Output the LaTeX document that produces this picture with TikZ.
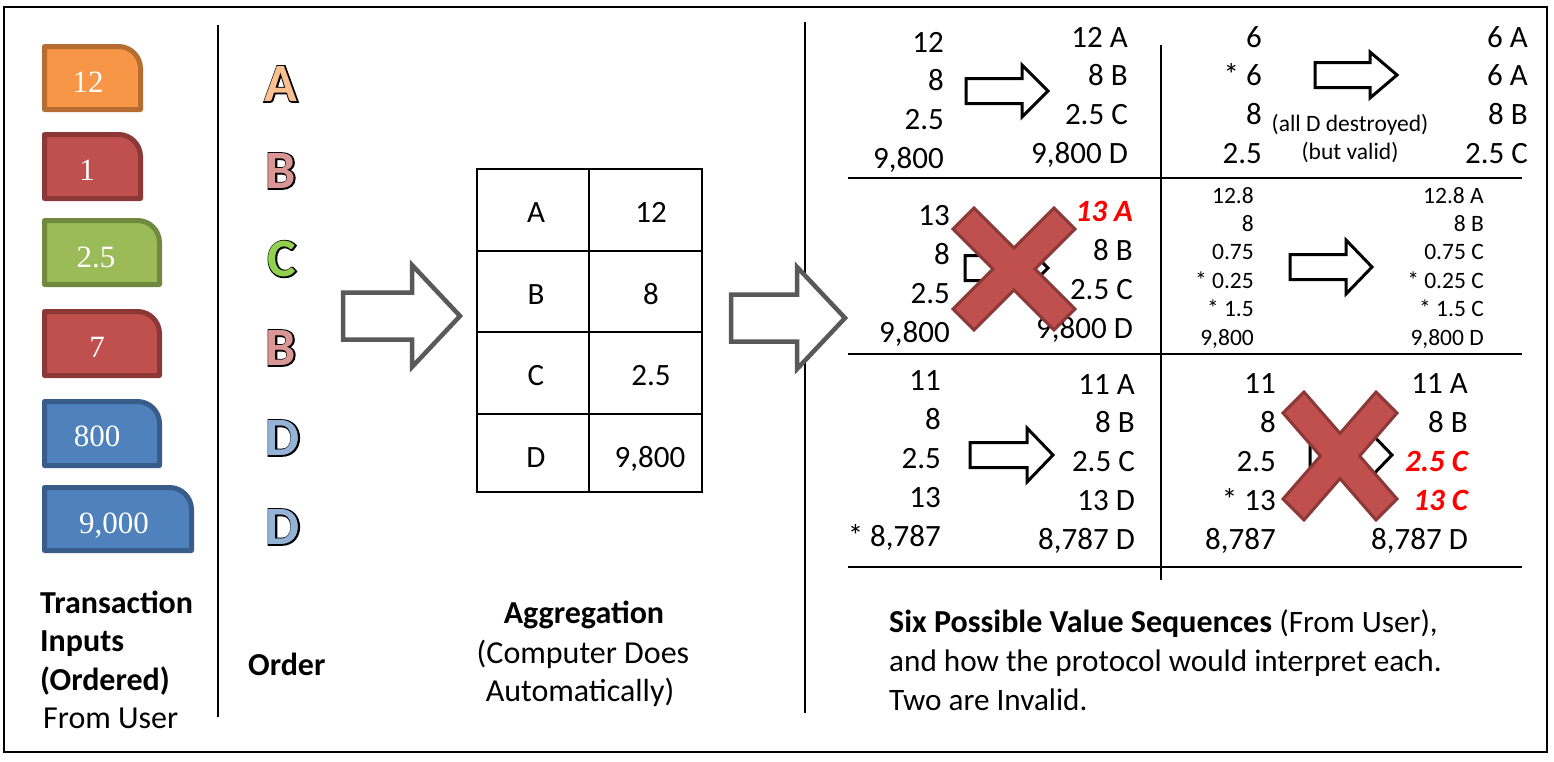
\documentclass[tikz,border=0pt]{standalone}
\usepackage{fontspec}
\setmainfont{Carlito}
\newfontfamily\boxfont{Liberation Serif}
\definecolor{orF}{HTML}{F79646}\definecolor{orB}{HTML}{B66D31}
\definecolor{rdF}{HTML}{C0504D}\definecolor{rdB}{HTML}{8C3836}
\definecolor{grF}{HTML}{9BBB59}\definecolor{grB}{HTML}{71893F}
\definecolor{blF}{HTML}{4F81BD}\definecolor{blB}{HTML}{385D8A}
\definecolor{lA}{HTML}{FAC090}\definecolor{lB}{HTML}{DA9694}
\definecolor{lC}{HTML}{92D050}\definecolor{lD}{HTML}{95B3D7}
\definecolor{arrgray}{HTML}{595959}
\definecolor{xfill}{HTML}{C0504D}\definecolor{xdraw}{HTML}{8C3836}
\definecolor{alarm}{HTML}{FF0000}
% outlined letter: black stroked copy underneath, coloured fill on top
\newcommand\olet[2]{\makebox[0pt][l]{\special{pdf:literal direct 1 Tr 2.6 w}#2\special{pdf:literal direct 0 Tr}}\textcolor{#1}{#2}}
% tab box: x1 y1 x2 y2 fill draw
\newcommand\tabbox[6]{%
  \draw[line width=5pt, fill=#5, draw=#6, line join=round]
    (#1+2.5,#4-2.5) -- (#1+2.5,#2+2.5) -- (#3-24.5,#2+2.5)
    .. controls (#3-12.4,#2+2.5) and (#3-2.5,#2+12.4) .. (#3-2.5,#2+24.5)
    -- (#3-2.5,#4-2.5) -- cycle;}
% block arrow: style xl xb xt ym shafthalf headhalf
\newcommand\blockarrow[7]{%
  \draw[#1] (#2,#5-#6) -- (#3,#5-#6) -- (#3,#5-#7) -- (#4,#5) -- (#3,#5+#7)
    -- (#3,#5+#6) -- (#2,#5+#6) -- cycle;}
\begin{document}
\begin{tikzpicture}[x=1pt,y=-1pt,
  numR/.style={font=\fontsize{31}{37}\selectfont, anchor=base east, inner sep=0pt},
  numS/.style={font=\fontsize{23.5}{28}\selectfont, anchor=base east, inner sep=0pt},
  note/.style={font=\fontsize{23.5}{28}\selectfont, anchor=base, inner sep=0pt},
  lbl/.style={font=\fontsize{32}{38}\selectfont, inner sep=0pt},
  captext/.style={font=\fontsize{31.2}{38}\selectfont, inner sep=0pt},
  lblB/.style={font=\bfseries\fontsize{32}{38}\selectfont, inner sep=0pt},
  boxnum/.style={font=\boxfont\fontsize{31}{37}\selectfont, text=white, anchor=base, inner sep=0pt},
  letter/.style={font=\bfseries\fontsize{54}{60}\selectfont, inner sep=0pt},
  cell/.style={font=\fontsize{31}{37}\selectfont, anchor=base, inner sep=0pt},
  bigarrow/.style={draw=arrgray, line width=4.5pt, fill=white, line join=miter, miter limit=10},
  smallarrow/.style={draw=black, line width=3pt, fill=white, line join=miter, miter limit=10},
  cross/.style={fill=xfill, draw=xdraw, line width=3pt, line join=miter},
  rule/.style={line width=1.3pt},
  tabline/.style={line width=1.2pt},
  tabthick/.style={line width=2.2pt},
  wrong/.style={text=alarm, font=\bfseries\itshape\fontsize{31}{37}\selectfont}
]
\useasboundingbox (0,0) rectangle (1554,761);
\fill[white] (0,0) rectangle (1554,761);
\draw[line width=2.5pt] (4,7) rectangle (1547,752);

% dividers
\draw[rule] (218,25) -- (218,717);
\draw[rule] (805,22) -- (805,713);

% input boxes
\tabbox{42}{44}{143}{112}{orF}{orB}
\tabbox{42}{132}{143}{201}{rdF}{rdB}
\tabbox{42}{218}{162}{287}{grF}{grB}
\tabbox{42}{309}{162}{378}{rdF}{rdB}
\tabbox{42}{399}{162}{468}{blF}{blB}
\tabbox{42}{485}{194}{553}{blF}{blB}
\node[boxnum] (in1) at (88,92) {12};
\node[boxnum] (in2) at (87,180) {1};
\node[boxnum] (in3) at (96,267) {2.5};
\node[boxnum] (in4) at (97,357) {7};
\node[boxnum] (in5) at (97,446) {800};
\node[boxnum] (in6) at (114,533) {9,000};

% order letters
\node[letter] (oA) at (281,84) {\olet{lA}{A}};
\node[letter] (oB1) at (281,171) {\olet{lB}{B}};
\node[letter] (oC) at (282,259) {\olet{lC}{C}};
\node[letter] (oB2) at (281,348) {\olet{lB}{B}};
\node[letter] (oD1) at (283,438) {\olet{lD}{D}};
\node[letter] (oD2) at (283,527) {\olet{lD}{D}};

% left labels
\node[lblB, anchor=base west] (t1) at (40,613) {Transaction};
\node[lblB, anchor=base west] (t2) at (40,651) {Inputs};
\node[lblB, anchor=base west] (t3) at (40,690) {(Ordered)};
\node[lbl, anchor=base west] (t4) at (43,728) {From User};
\node[lblB, anchor=base west] (ord) at (248,675) {Order};

% big arrows
\blockarrow{bigarrow}{343}{412}{460}{316}{23.5}{51}
\blockarrow{bigarrow}{731}{797}{845}{318}{23.5}{51}

% aggregation table
\draw[tabline] (477,169) rectangle (702,492);
\draw[tabline] (589,169) -- (589,492);
\draw[tabthick] (477,251) -- (702,251);
\draw[tabline] (477,332) -- (702,332);
\draw[tabthick] (477,414) -- (702,414);
\node[cell] (ka) at (536,222) {A};
\node[cell] (va) at (651,222) {12};
\node[cell] (kb) at (536,304) {B};
\node[cell] (vb) at (651,304) {8};
\node[cell] (kc) at (536,385) {C};
\node[cell] (vc) at (651,385) {2.5};
\node[cell] (kd) at (536,467) {D};
\node[cell] (vd) at (650,467) {9,800};
\node[lblB, anchor=base] (ag1) at (584,623) {Aggregation};
\node[lbl, anchor=base] (ag2) at (583,663) {(Computer Does};
\node[lbl, anchor=base] (ag3) at (580,701) {Automatically)};

% right grid
\draw[rule] (848,178) -- (1522,178);
\draw[rule] (848,354) -- (1522,354);
\draw[rule] (848,567) -- (1522,567);
\draw[rule] (1161,45) -- (1161,580);

% top-left cell
\foreach \t [count=\i] in {12,8,2.5,{9,800}}
  \node[numR] (tlL\i) at (944,{52+38.7*(\i-1)}) {\t};
\foreach \t [count=\i] in {12 A,8 B,2.5 C,{9,800 D}}
  \node[numR] (tlR\i) at (1128,{47+38.7*(\i-1)}) {\t};
\blockarrow{smallarrow}{966}{1022}{1048}{91}{12.5}{26}

% top-right cell
\foreach \t [count=\i] in {6,* 6,8,2.5}
  \node[numR] (trL\i) at (1262,{47+38.7*(\i-1)}) {\t};
\foreach \t [count=\i] in {6 A,6 A,8 B,2.5 C}
  \node[numR] (trR\i) at (1528,{47+38.7*(\i-1)}) {\t};
\blockarrow{smallarrow}{1315}{1370}{1397}{75}{12.5}{23}
\node[note] (n1) at (1350,131) {(all D destroyed)};
\node[note] (n2) at (1350,159) {(but valid)};

% middle-left cell
\foreach \t [count=\i] in {13,8,2.5,{9,800}}
  \node[numR] (mlL\i) at (950,{225+39*(\i-1)}) {\t};
\node[numR, wrong] (mlR1) at (1133,221) {13 A};
\foreach \t [count=\i from 2] in {8 B,2.5 C,{9,800 D}}
  \node[numR] (mlR\i) at (1133,{221+39*(\i-1)}) {\t};
\blockarrow{smallarrow}{965}{1022}{1048}{268}{12.5}{26}

% middle-right cell
\foreach \t [count=\i] in {12.8,8,0.75,* 0.25,* 1.5,{9,800}}
  \node[numS] (mrL\i) at (1254,{203+28.4*(\i-1)}) {\t};
\foreach \t [count=\i] in {12.8 A,8 B,0.75 C,* 0.25 C,* 1.5 C,{9,800 D}}
  \node[numS] (mrR\i) at (1484,{203+28.4*(\i-1)}) {\t};
\blockarrow{smallarrow}{1290}{1346}{1372}{267}{12.5}{27}

% bottom-left cell
\foreach \t [count=\i] in {11,8,2.5,13,{* 8,787}}
  \node[numR] (blL\i) at (941,{390+39*(\i-1)}) {\t};
\foreach \t [count=\i] in {11 A,8 B,2.5 C,13 D,{8,787 D}}
  \node[numR] (blR\i) at (1135,{394+38.8*(\i-1)}) {\t};
\blockarrow{smallarrow}{970}{1027}{1053}{455}{12.5}{27}

% bottom-right cell
\foreach \t [count=\i] in {11,8,2.5,* 13,{8,787}}
  \node[numR] (brL\i) at (1276,{393+39*(\i-1)}) {\t};
\node[numR] (brR1) at (1468,393) {11 A};
\node[numR] (brR2) at (1468,432) {8 B};
\node[numR, wrong] (brR3) at (1468,471) {2.5 C};
\node[numR, wrong] (brR4) at (1468,510) {13 C};
\node[numR] (brR5) at (1468,549) {8,787 D};
\blockarrow{smallarrow}{1310}{1366}{1392}{455}{12.5}{27}

% invalid crosses
\draw[cross] (953,229) -- (974,208) -- (1014,248) -- (1054,208) -- (1075,229)
  -- (1035,269) -- (1075,309) -- (1054,330) -- (1014,290) -- (974,330)
  -- (953,309) -- (993,269) -- cycle;
\draw[cross] (1283,413) -- (1304,392) -- (1340,433.4) -- (1376,392) -- (1397,413)
  -- (1359.6,456) -- (1397,499) -- (1376,520) -- (1340,478.6) -- (1304,520)
  -- (1283,499) -- (1320.4,456) -- cycle;

% caption
\node[lblB, anchor=base west] (c1) at (889,632) {Six Possible Value Sequences \mdseries\fontsize{31.2}{38}\selectfont(From User),};
\node[captext, anchor=base west] (c2) at (889,671) {and how the protocol would interpret each.};
\node[captext, anchor=base west] (c3) at (889,710) {Two are Invalid.};
\end{tikzpicture}
\end{document}
